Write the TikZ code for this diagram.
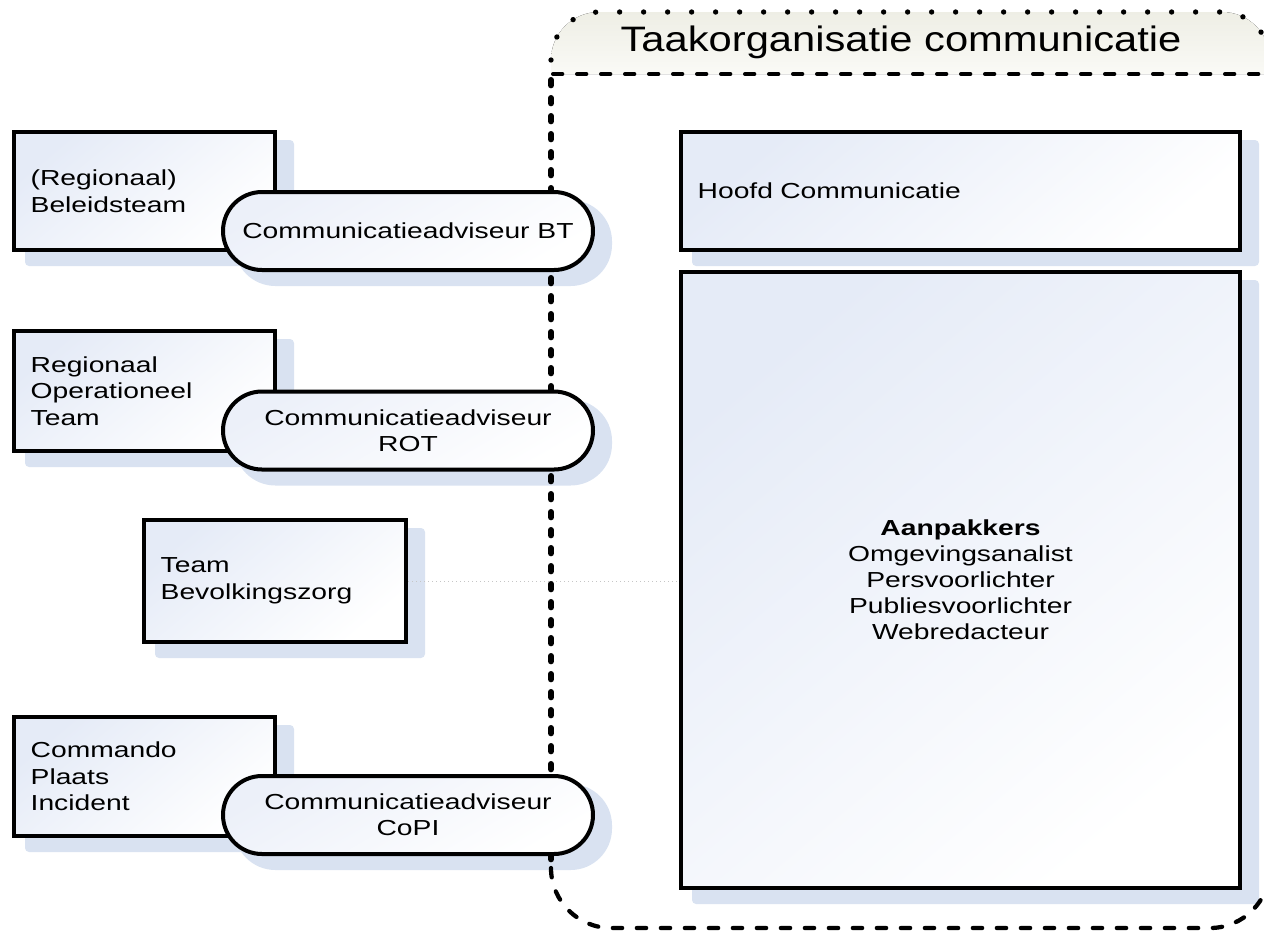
\documentclass[tikz,border=0pt]{standalone}
\usepackage{fontspec}
\setmainfont[FakeStretch=1.3]{Liberation Sans}
\newfontfamily\titlefont[FakeStretch=1.18]{Liberation Sans}
\usetikzlibrary{backgrounds}
\definecolor{shadowc}{RGB}{217,226,241}
\definecolor{boxtop}{RGB}{229,235,247}
\definecolor{pilltop}{RGB}{236,240,249}
\definecolor{tabtop}{RGB}{238,238,229}
\definecolor{tabbot}{RGB}{250,250,246}
\begin{document}
\begin{tikzpicture}[x=0.75pt,y=-0.75pt,
  box/.style={draw=black, line width=3pt, shade, shading=axis,
    top color=boxtop, bottom color=white, shading angle=40,
    inner xsep=12.5pt, inner ysep=0pt, align=left,
    font=\fontsize{16.3}{20}\selectfont},
  pill/.style={draw=black, line width=3pt, rounded corners=29.25pt,
    shade, shading=axis, top color=pilltop, bottom color=white, shading angle=30,
    minimum width=277.5pt, minimum height=58.5pt, inner sep=0pt, align=center,
    font=\fontsize{16.3}{19.75}\selectfont},
  shadowfill/.style={fill=shadowc},
  hdash/.style={line width=3.2pt, line cap=round, dash pattern=on 7pt off 11pt},
  vdash/.style={line width=4.5pt, line cap=round, dash pattern=on 4pt off 9.5pt},
  dotline/.style={line width=4pt, line cap=round, dash pattern=on 0pt off 18pt},
  faint/.style={draw=gray!45, line width=0.6pt, dash pattern=on 0.75pt off 2.25pt}
]
\useasboundingbox (0,0) rectangle (1264,933);

% left-hand teams
\node[box, text width=170.75pt, minimum height=88.5pt] (b1) at (144.5,191) {(Regionaal)\\Beleidsteam};
\node[box, text width=170.75pt, minimum height=90pt] (b2) at (144.5,391) {Regionaal\\Operationeel\\Team};
\node[box, text width=171.5pt, minimum height=91.5pt] (b3) at (275,581) {Team\\Bevolkingszorg};
\node[box, text width=170.75pt, minimum height=89.25pt] (b4) at (144.5,776.5) {Commando\\Plaats\\Incident};

% advisers
\node[pill] (p1) at (408,231) {Communicatieadviseur BT};
\node[pill] (p2) at (408,430.5) {Communicatieadviseur\\ROT};
\node[pill] (p3) at (408,815) {Communicatieadviseur\\CoPI};

% communication organisation
\node[box, text width=394.25pt, minimum height=88.5pt] (hc) at (960.5,191) {Hoofd Communicatie};
\node[box, text width=394.25pt, minimum height=462pt, align=center,
      font=\fontsize{16.3}{19.5}\selectfont] (ap) at (960.5,580)
  {{\bfseries Aanpakkers}\\Omgevingsanalist\\Persvoorlichter\\Publiesvoorlichter\\Webredacteur};

\node[font=\titlefont\fontsize{26.5}{30}\selectfont, inner sep=0pt] (title) at (901,42) {Taakorganisatie communicatie};

\begin{scope}[on background layer]
  % shadows
  \foreach \n in {b1,b2,b3,b4,hc,ap}
    \fill[shadowfill, rounded corners=3pt] ([shift={(13,10)}]\n.north west) rectangle ([shift={(17,14)}]\n.south east);
  \foreach \n in {p1,p2,p3}
    \fill[shadowfill, rounded corners=31pt] ([shift={(13,10)}]\n.north west) rectangle ([shift={(17,14)}]\n.south east);
  % faint connector
  \draw[faint] (b3.east) -- (b3.east -| ap.west);
  % tab of the container
  \fill[top color=tabtop, bottom color=tabbot]
    (551,74) -- (551,60) .. controls (551,33.5) and (572.5,12) .. (599,12)
    -- (1222,12) .. controls (1248.5,12) and (1270,33.5) .. (1270,60) -- (1270,74) -- cycle;
  \draw[dotline] (551,60) .. controls (551,33.5) and (572.5,12) .. (599,12)
    -- (1222,12) .. controls (1248.5,12) and (1270,33.5) .. (1270,60);
  % container outline
  \draw[hdash, line width=3pt] (553,74) -- (1270,74);
  \draw[vdash] (551,80) -- (551,862);
  \draw[hdash] (551,868) .. controls (551,901) and (578,928) .. (611,928) -- (1210,928)
    .. controls (1243,928) and (1270,901) .. (1270,868) -- (1270,80);
\end{scope}
\end{tikzpicture}
\end{document}
